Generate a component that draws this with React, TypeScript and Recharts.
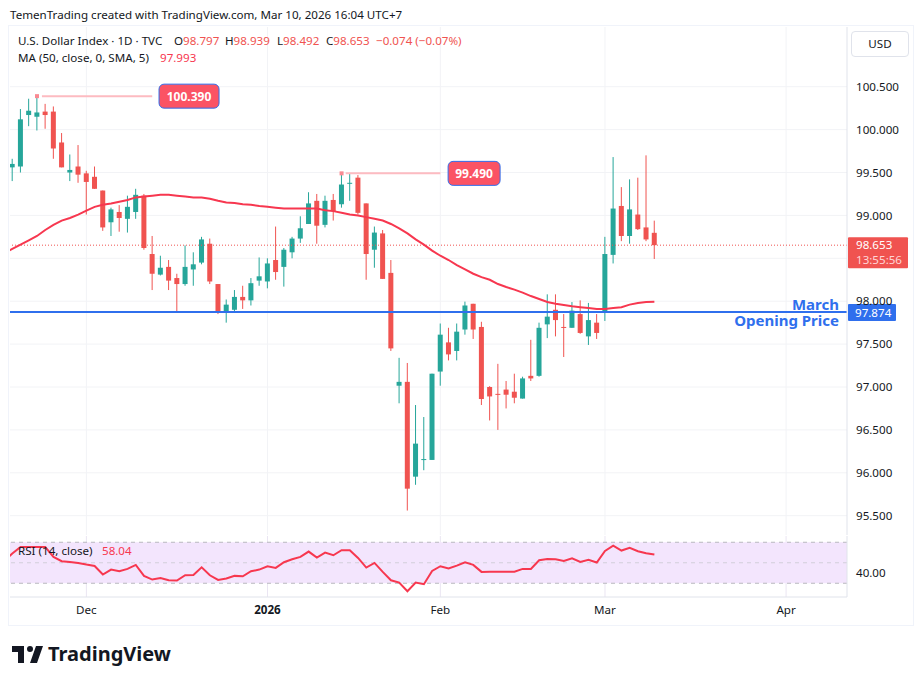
import {
  Bar,
  CartesianGrid,
  ComposedChart,
  Line,
  LineChart,
  ReferenceArea,
  ReferenceDot,
  ReferenceLine,
  XAxis,
  YAxis,
} from "recharts";

const UP = "#26A69A";
const DOWN = "#F05350";
const MA_COLOR = "#F7374F";
const BLUE = "#2F6FED";
const GRID = "#F2F3F6";
const AXIS = "#E0E3EB";
const FONT = "'Noto Sans', sans-serif";

// daily candles, Nov 19 2025 -> Mar 10 2026
const opens = [
  99.56, 99.57, 100.17, 100.15, 100.21, 100.21, 99.85, 99.5, 99.57, 99.49,
  99.45, 99.29, 98.92, 99.04, 98.96, 99.04, 99.23, 98.55, 98.31, 98.4,
  98.27, 98.2, 98.37, 98.45, 98.67, 98.2, 97.88, 97.9, 98.05, 98.01,
  98.24, 98.23, 98.48, 98.4, 98.57, 98.73, 98.9, 99.17, 98.89, 99.18,
  99.13, 99.37, 99.44, 99.14, 98.6, 98.79, 98.33, 97.015, 97.06, 95.955,
  96.15, 96.15, 97.18, 97.52, 97.42, 97.67, 97.97, 97.7, 97.0, 96.92,
  96.97, 96.945, 96.865, 97.13, 97.13, 97.73, 97.9, 97.7, 97.69, 97.85,
  97.59, 97.75, 97.87, 98.54, 99.11, 98.76, 99.01, 98.86, 98.797,
];
const highs = [
  99.66, 100.24, 100.36, 100.39, 100.3, 100.27, 99.96, 99.71, 99.82, 99.52,
  99.57, 99.29, 99.09, 99.12, 99.23, 99.31, 99.25, 98.76, 98.53, 98.48,
  98.32, 98.65, 98.57, 98.75, 98.73, 98.2, 98.02, 98.13, 98.18, 98.27,
  98.51, 98.5, 98.87, 98.62, 98.75, 98.99, 99.27, 99.25, 99.23, 99.25,
  99.49, 99.49, 99.47, 99.14, 98.87, 98.83, 98.48, 97.34, 97.28, 96.79,
  96.65, 97.155, 97.74, 97.69, 97.74, 97.995, 97.97, 97.76, 97.01, 97.27,
  97.07, 97.155, 97.12, 97.55, 97.75, 98.08, 98.08, 97.85, 97.99, 98.01,
  97.98, 97.85, 98.75, 99.68, 99.33, 99.42, 99.44, 99.7, 98.939,
];
const lows = [
  99.4, 99.5, 100.04, 99.99, 100.01, 99.66, 99.56, 99.4, 99.38, 99.01,
  99.31, 98.82, 98.76, 98.81, 98.8, 98.96, 98.6, 98.13, 98.3, 98.13,
  97.875, 98.18, 98.18, 98.43, 98.2, 97.85, 97.75, 97.88, 97.91, 97.95,
  98.18, 98.15, 98.25, 98.17, 98.5, 98.68, 98.9, 98.67, 98.86, 98.94,
  99.09, 99.17, 99.01, 98.25, 98.39, 98.26, 97.42, 96.81, 95.56, 95.86,
  96.03, 96.15, 97.015, 97.31, 97.31, 97.61, 97.56, 96.79, 96.61, 96.5,
  96.75, 96.81, 96.865, 97.07, 97.12, 97.57, 97.59, 97.35, 97.69, 97.62,
  97.49, 97.56, 97.77, 98.44, 98.7, 98.67, 98.83, 98.7, 98.492,
];
const closes = [
  99.6, 100.12, 100.22, 100.2, 100.17, 99.78, 99.56, 99.53, 99.475, 99.39,
  99.31, 98.86, 99.07, 98.97, 99.1, 99.24, 98.62, 98.32, 98.39, 98.24,
  98.2, 98.4, 98.43, 98.72, 98.23, 97.88, 97.96, 98.05, 98.01, 98.21,
  98.29, 98.44, 98.34, 98.6, 98.73, 98.85, 99.14, 98.88, 99.17, 99.05,
  99.36, 99.38, 99.03, 98.55, 98.8, 98.26, 97.45, 97.06, 95.815, 96.34,
  96.16, 97.155, 97.61, 97.38, 97.645, 97.95, 97.67, 96.86, 96.89, 96.91,
  96.91, 96.875, 97.1, 97.1, 97.69, 97.82, 97.78, 97.69, 97.89, 97.63,
  97.78, 97.63, 98.55, 99.08, 98.76, 99.07, 98.84, 98.72, 98.653,
];

// these two start one bar earlier, the lines run off the left edge
const maValues = [
  98.56, 98.61, 98.66, 98.71, 98.76, 98.83, 98.89, 98.94, 98.97, 99.01,
  99.055, 99.1, 99.125, 99.14, 99.16, 99.18, 99.21, 99.22, 99.23, 99.24,
  99.24, 99.23, 99.22, 99.21, 99.21, 99.195, 99.17, 99.15, 99.144, 99.13,
  99.125, 99.11, 99.1, 99.09, 99.08, 99.08, 99.08, 99.08, 99.08, 99.06,
  99.05, 99.03, 99.01, 99.0, 98.98, 98.96, 98.94, 98.9, 98.85, 98.79,
  98.72, 98.66, 98.59, 98.53, 98.48, 98.42, 98.37, 98.32, 98.28, 98.25,
  98.2, 98.165, 98.135, 98.1, 98.06, 98.025, 97.99, 97.97, 97.955, 97.94,
  97.93, 97.92, 97.91, 97.91, 97.92, 97.93, 97.96, 97.98, 97.99, 97.993,
];
const rsiValues = [
  51.5, 58.95, 65.45, 65.45, 65.45, 65.45, 55.7, 51.5, 50.8, 49.85,
  48.2, 46.9, 38.5, 43.35, 41.7, 44, 47.9, 37.2, 33.6, 35.2,
  32.95, 32.6, 37.8, 38.15, 45.6, 37.8, 33.3, 34.6, 37.2, 36.85,
  41.7, 43.35, 46.6, 45, 50.5, 53.4, 55.7, 60.9, 55, 59.9,
  57.3, 62.2, 62.2, 54.7, 45.3, 49.85, 41.1, 32.95, 30.7, 22.2,
  30.7, 29.1, 42.05, 46.6, 44.35, 47.25, 50.5, 47.9, 41.1, 41.15,
  41.2, 41.2, 41.25, 44, 44, 52.45, 53.75, 53.4, 51.8, 54.4,
  50.8, 52.8, 50.2, 61.55, 66.75, 61.9, 64.5, 61.2, 59.3, 58.04,
];

const monthTicks = [9, 31, 52, 72, 94];
const monthLabels: Record<number, string> = { 9: "Dec", 31: "2026", 52: "Feb", 72: "Mar", 94: "Apr" };
const priceTicks = [95.5, 96, 96.5, 97, 97.5, 98, 98.5, 99, 99.5, 100, 100.5];

const X_DOMAIN: [number, number] = [-0.28, 101.4];

const rows = maValues.map((ma, k) => {
  const i = k - 1;
  return {
    i,
    ma,
    rsi: rsiValues[k],
    open: opens[i],
    high: highs[i],
    low: lows[i],
    close: closes[i],
  };
});

function Candle(props: any) {
  const { x, y, width, height, payload } = props;
  if (payload == null || payload.open == null) return null;
  const { open, high, low, close } = payload;
  const perUnit = height / (high - low);
  const top = y + (high - Math.max(open, close)) * perUnit;
  const body = Math.max(Math.abs(open - close) * perUnit, 1);
  const cx = x + width / 2;
  const color = close >= open ? UP : DOWN;
  return (
    <g>
      <line x1={cx} x2={cx} y1={y} y2={y + height} stroke={color} strokeWidth={1} />
      <rect x={cx - 2.5} y={top} width={5} height={body} fill={color} />
    </g>
  );
}

// rounded callout on the end of the high/low pointer
function Badge(props: any) {
  const { cx, cy, w, text } = props;
  return (
    <g>
      <rect x={cx - w / 2} y={cy - 12} width={w} height={24} rx={5} fill="#FB5364" stroke={BLUE} strokeWidth={1} />
      <text x={cx} y={cy + 4.5} textAnchor="middle" fill="#fff" fontSize={12} fontWeight={700} fontFamily={FONT}>
        {text}
      </text>
    </g>
  );
}

function PeakDot(props: any) {
  const { cx, cy } = props;
  return <rect x={cx - 2} y={cy - 2} width={4} height={4} fill="#F98A92" />;
}

function LastPriceTag(props: any) {
  const { viewBox } = props;
  const x = viewBox.x + viewBox.width + 1;
  return (
    <g fontFamily={FONT} fontSize={11.6}>
      <rect x={x} y={viewBox.y - 8} width={60} height={31} rx={1} fill={DOWN} />
      <text x={x + 8} y={viewBox.y + 4} fill="#fff">98.653</text>
      <text x={x + 8} y={viewBox.y + 19} fill="#FFD6D6">13:55:56</text>
    </g>
  );
}

function MarchTag(props: any) {
  const { viewBox } = props;
  const right = viewBox.x + viewBox.width;
  return (
    <g fontFamily={FONT}>
      <text x={right - 8} y={viewBox.y - 2} textAnchor="end" fill={BLUE} fontSize={15} fontWeight={700}>March</text>
      <text x={right - 8} y={viewBox.y + 14} textAnchor="end" fill={BLUE} fontSize={15} fontWeight={700}>Opening Price</text>
      <rect x={right + 1} y={viewBox.y - 8} width={48} height={17} rx={1} fill={BLUE} />
      <text x={right + 8} y={viewBox.y + 5} fill="#fff" fontSize={11.6}>97.874</text>
    </g>
  );
}

function MonthTick(props: any) {
  const { x, y, payload } = props;
  const label = monthLabels[payload.value];
  return (
    <text x={x} y={y + 9} textAnchor="middle" fill="#131722" fontSize={11.6} fontFamily={FONT} fontWeight={label === "2026" ? 700 : 400}>
      {label}
    </text>
  );
}

function Txt({ x, y, color = "#131722", size = 11.6, weight = 400, children }: any) {
  return (
    <span style={{ position: "absolute", left: x, top: y, color, fontSize: size, fontWeight: weight, fontFamily: FONT, lineHeight: "16px", whiteSpace: "nowrap" }}>
      {children}
    </span>
  );
}

export default function App() {
  return (
    <div style={{ position: "absolute", left: 0, top: 0, width: 923, height: 685, background: "#fff", overflow: "hidden" }}>
      <Txt x={10} y={7}>TemenTrading created with TradingView.com, Mar 10, 2026 16:04 UTC+7</Txt>
      <div style={{ position: "absolute", left: 8, top: 25, width: 904, height: 599, border: "1px solid #F0F3FA", boxSizing: "content-box" }} />

      <div style={{ position: "absolute", left: 10, top: 26 }}>
        <ComposedChart width={903} height={509} data={rows} margin={{ top: 1, right: 0, bottom: 0, left: 0 }}>
          <CartesianGrid stroke={GRID} syncWithTicks />
          <XAxis dataKey="i" type="number" domain={X_DOMAIN} allowDataOverflow ticks={monthTicks} hide />
          <YAxis
            orientation="right"
            width={66}
            domain={[95.275, 101.196]}
            allowDataOverflow
            ticks={priceTicks}
            interval={0}
            tickFormatter={(v: number) => (v === 98.5 ? "" : v.toFixed(3))}
            tick={{ fontSize: 11.6, fill: "#131722", fontFamily: FONT }}
            tickLine={false}
            tickMargin={3}
            stroke={AXIS}
          />
          <ReferenceLine y={98.653} stroke={DOWN} strokeWidth={1} strokeDasharray="1 2" label={(p: any) => <LastPriceTag {...p} />} />
          <Bar dataKey={(d: any) => (d.open == null ? null : [d.low, d.high])} barSize={6} shape={<Candle />} isAnimationActive={false} />
          <Line dataKey="ma" stroke={MA_COLOR} strokeWidth={2} dot={false} activeDot={false} isAnimationActive={false} />
          <ReferenceLine y={97.874} stroke={BLUE} strokeWidth={2} label={(p: any) => <MarchTag {...p} />} />
          <ReferenceLine segment={[{ x: 3.6, y: 100.39 }, { x: 17, y: 100.39 }]} stroke="#FDBBC1" strokeWidth={2} />
          <ReferenceDot x={3} y={100.39} shape={<PeakDot />} />
          <ReferenceDot x={21.47} y={100.39} shape={(p: any) => <Badge {...p} w={60} text="100.390" />} />
          <ReferenceLine segment={[{ x: 40.5, y: 99.49 }, { x: 52, y: 99.49 }]} stroke="#FDBBC1" strokeWidth={2} />
          <ReferenceDot x={40} y={99.49} shape={<PeakDot />} />
          <ReferenceDot x={56.1} y={99.49} shape={(p: any) => <Badge {...p} w={52} text="99.490" />} />
        </ComposedChart>
      </div>

      <div style={{ position: "absolute", left: 10, top: 535 }}>
        <LineChart width={903} height={90} data={rows} margin={{ top: 1, right: 0, bottom: 0, left: 0 }}>
          <ReferenceArea y1={30} y2={70} fill="#F3E5FD" fillOpacity={1} stroke="none" />
          <CartesianGrid stroke="#EAE5F2" syncWithTicks />
          <XAxis
            dataKey="i"
            type="number"
            domain={X_DOMAIN}
            allowDataOverflow
            ticks={monthTicks}
            interval={0}
            height={28}
            tick={<MonthTick />}
            tickLine={false}
            stroke={AXIS}
          />
          <YAxis
            orientation="right"
            width={66}
            domain={[16.6, 76.1]}
            ticks={[40]}
            tickFormatter={(v: number) => v.toFixed(2)}
            tick={{ fontSize: 11.6, fill: "#131722", fontFamily: FONT }}
            tickLine={false}
            tickMargin={3}
            stroke={AXIS}
          />
          <ReferenceLine y={70} stroke="#B8B8BE" strokeDasharray="4 4" />
          <ReferenceLine y={50} stroke="#D2CEDA" strokeDasharray="4 4" />
          <ReferenceLine y={30} stroke="#B8B8BE" strokeDasharray="4 4" />
          <Line dataKey="rsi" stroke={MA_COLOR} strokeWidth={2} dot={false} activeDot={false} isAnimationActive={false} />
        </LineChart>
      </div>

      <Txt x={18} y={33}>U.S. Dollar Index · 1D · TVC</Txt>
      <Txt x={174} y={33}>O<span style={{ color: DOWN }}>98.797</span></Txt>
      <Txt x={225} y={33}>H<span style={{ color: DOWN }}>98.939</span></Txt>
      <Txt x={277} y={33}>L<span style={{ color: DOWN }}>98.492</span></Txt>
      <Txt x={326} y={33}>C<span style={{ color: DOWN }}>98.653</span></Txt>
      <Txt x={376} y={33} color={DOWN}>−0.074 (−0.07%)</Txt>
      <Txt x={18} y={50}>MA (50, close, 0, SMA, 5)</Txt>
      <Txt x={160} y={50} color={MA_COLOR}>97.993</Txt>
      <Txt x={18} y={543}>RSI (14, close)</Txt>
      <Txt x={102} y={543} color={MA_COLOR}>58.04</Txt>

      <div style={{ position: "absolute", left: 851, top: 31, width: 58, height: 26, boxSizing: "border-box", border: "1px solid #E0E3EB", borderRadius: 4, textAlign: "center", lineHeight: "24px", fontSize: 11.6, fontFamily: FONT, color: "#131722" }}>
        USD
      </div>

      <svg style={{ position: "absolute", left: 10, top: 644 }} width={36} height={22} viewBox="0 0 36 22">
        <path d="M14 2H2v6h6v11h6V2Zm13 17h-7l6-17h7l-6 17Zm-7-11a3 3 0 1 0 0-6 3 3 0 0 0 0 6Z" fill="#131722" />
      </svg>
      <Txt x={48} y={646} size={20} weight={700}>TradingView</Txt>
    </div>
  );
}
